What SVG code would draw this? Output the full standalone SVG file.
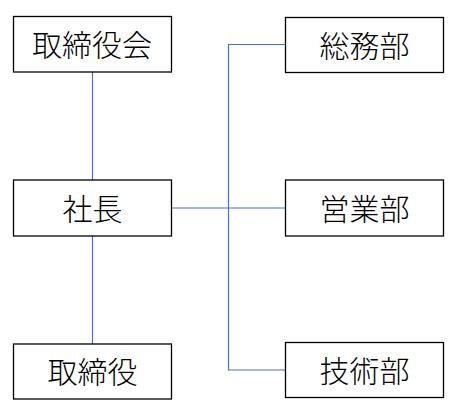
<svg xmlns="http://www.w3.org/2000/svg" width="463" height="419" viewBox="0 0 463 419">
<style>
.box{fill:#fff;stroke:#000;stroke-width:1.3}
.lbl{font-family:"Noto Sans CJK JP","Noto Sans CJK SC",sans-serif;font-weight:300;font-size:30px;fill:#000;text-anchor:middle;dominant-baseline:central}
.con{fill:none;stroke:#4472C4;stroke-width:1.2}
</style>
<rect width="463" height="419" fill="#fff"/>
<g id="connectors">
<path class="con" d="M92.5 72 V180"/>
<path class="con" d="M92.5 236 V344"/>
<path class="con" d="M171.5 208 H285"/>
<path class="con" d="M285 44.5 H228.5 V370 H285"/>
</g>
<g id="torishimariyakukai"><rect class="box" x="13.5" y="16.5" width="158" height="55.5"/><text class="lbl" x="92" y="42.5">取締役会</text></g>
<g id="shacho"><rect class="box" x="13.5" y="180" width="158" height="56"/><text class="lbl" x="92.5" y="206.5">社長</text></g>
<g id="torishimariyaku"><rect class="box" x="13.5" y="344" width="158" height="55"/><text class="lbl" x="92.5" y="370">取締役</text></g>
<g id="somubu"><rect class="box" x="285.5" y="17.5" width="158" height="55"/><text class="lbl" x="364.5" y="43.5">総務部</text></g>
<g id="eigyobu"><rect class="box" x="285.5" y="180" width="158" height="56"/><text class="lbl" x="364.5" y="206.5">営業部</text></g>
<g id="gijutsubu"><rect class="box" x="285.5" y="342.5" width="158" height="55"/><text class="lbl" x="364.5" y="368.5">技術部</text></g>
</svg>
